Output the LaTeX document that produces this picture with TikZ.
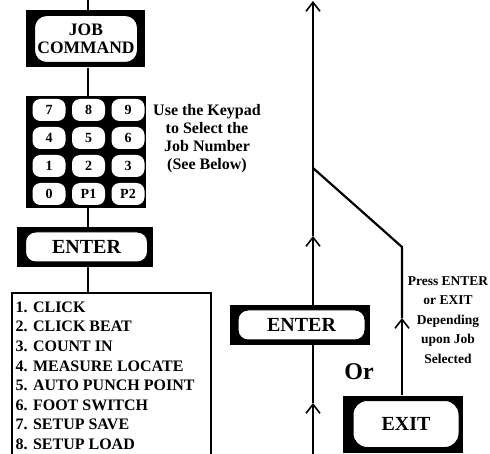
\documentclass[tikz,border=0pt]{standalone}
\usepackage{fontspec}
\setmainfont{Liberation Serif}
\usetikzlibrary{arrows.meta}
\tikzset{
  btnframe/.style={fill=black, inner sep=0pt},
  btnface/.style={fill=white, draw=black, line width=1pt, rounded corners=#1, inner sep=0pt,
    font=\bfseries\fontsize{20}{20}\selectfont},
  btnface/.default=10pt,
  keycap/.style={fill=white, rounded corners=8pt, minimum width=33pt, minimum height=22pt,
    inner sep=0pt, font=\bfseries\fontsize{14}{14}\selectfont},
  wire/.style={line width=2.2pt},
  up/.style={wire, -{Straight Barb[length=9pt,width=14pt,line width=1.6pt]}},
}
\begin{document}
\begin{tikzpicture}[x=1pt,y=-1pt]
    \useasboundingbox (0,0) rectangle (490,454);
    \clip (0,0) rectangle (490,454);
    % left column: job command, keypad, enter, list
    \coordinate (start) at (88,0);
    \node[btnframe, minimum width=119pt, minimum height=57pt] (job) at (85.5,39) {};
    \node[btnface=12pt, minimum width=103pt, minimum height=47pt, align=center,
      font=\bfseries\fontsize{17.5}{18}\selectfont] (jobface) at (86,39) {JOB\\COMMAND};
    \node[btnframe, minimum width=120pt, minimum height=112pt] (keypad) at (86,152) {};
    \foreach \lbl [count=\i from 0] in {7,8,9,4,5,6,1,2,3,0,P1,P2} {
        \pgfmathtruncatemacro{\kc}{mod(\i,3)}
        \pgfmathtruncatemacro{\kr}{\i/3}
        \node[keycap] (key\lbl) at ({49+39.5*\kc},{110+28*\kr}) {\lbl};
    }
    \node[align=center, font=\bfseries\fontsize{16}{18}\selectfont] (hint) at (207,139)
      {Use the Keypad\\to Select the\\Job Number\\(See Below)};
    \node[btnframe, minimum width=136pt, minimum height=40pt] (enter) at (85,247) {};
    \node[btnface, minimum width=122pt, minimum height=30pt] (enterface) at (86.5,247) {ENTER};
    \node[draw, line width=2pt, minimum width=199pt, minimum height=190pt, anchor=north west,
      inner sep=0pt] (jobs) at (11,292) {};
    \foreach \entry [count=\n] in {CLICK, CLICK BEAT, COUNT IN, MEASURE LOCATE,
        AUTO PUNCH POINT, FOOT SWITCH, SETUP SAVE, SETUP LOAD} {
        \node[anchor=base west, inner sep=0pt, font=\bfseries\fontsize{16}{16}\selectfont]
          (job\n) at (15.5,{312.5+19.5*(\n-1)}) {\n. \entry};
    }
    \draw[wire] (start) -- (job.north -| start);
    \draw[wire] (job.south -| start) -- (keypad.north -| start);
    \draw[wire] (keypad.south -| start) -- (enter.north -| start);
    \draw[wire] (enter.south -| start) -- (jobs.north -| start);

    % right column: enter or exit
    \coordinate (top) at (313,1);
    \coordinate (bottom) at (313,460);
    \coordinate (junc) at (313,168);
    \coordinate (mid) at (313,236);
    \coordinate (low) at (313,403);
    \coordinate (bend) at (402,247);
    \coordinate (rise) at (402,318);
    \node[btnframe, minimum width=140pt, minimum height=40pt] (enter2) at (300,325) {};
    \node[btnface, minimum width=127pt, minimum height=30pt] (enter2face) at (301.5,325) {ENTER};
    \node[btnframe, minimum width=120pt, minimum height=57pt] (exit) at (403,424) {};
    \node[btnface=14pt, minimum width=106pt, minimum height=47pt] (exitface) at (406,424) {EXIT};
    \node[font=\bfseries\fontsize{24}{24}\selectfont] (or) at (359,372) {Or};
    \node[align=center, font=\bfseries\fontsize{13.5}{19.5}\selectfont] (press) at (448,320)
      {Press ENTER\\or EXIT\\Depending\\upon Job\\Selected};
    \draw[up] (bottom) -- (low);
    \draw[wire] (low) -- (enter2.south -| low);
    \draw[up] (enter2.north -| mid) -- (mid);
    \draw[up] (mid) -- (top);
    \draw[up] (exit.north -| bend) -- (rise);
    \draw[wire] (rise) -- (bend) -- (junc);
\end{tikzpicture}
\end{document}
